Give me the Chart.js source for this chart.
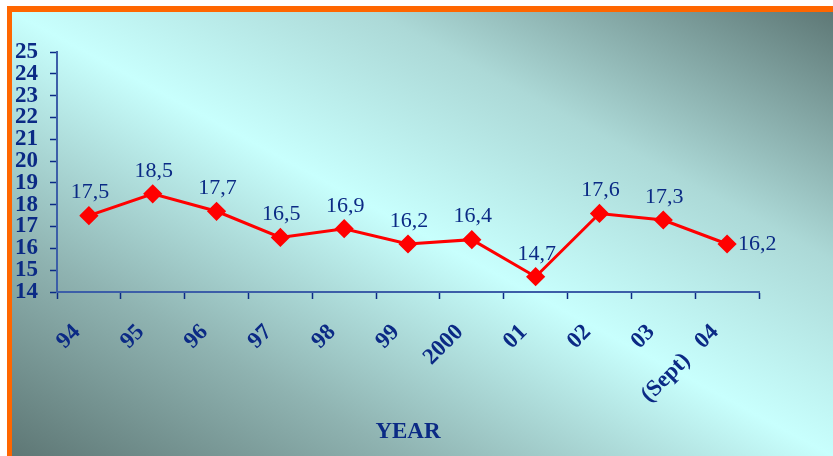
<!DOCTYPE html>
<html>
<head>
<meta charset="utf-8">
<script src="https://cdn.jsdelivr.net/npm/chart.js@4.4.1/dist/chart.umd.min.js"></script>
<style>
  html, body { margin: 0; padding: 0; background: #fff; }
  #frame {
    position: absolute; left: 7px; top: 6px; width: 826px; height: 450px;
    box-sizing: border-box;
    border-top: 6px solid #ff6600; border-left: 5px solid #ff6600;
    background: linear-gradient(to top right, #5e7775 0%, #8fb3b1 24%, #c8fffd 50%, #acd9d7 72%, #5e7876 100%);
  }
  #wrap { position: absolute; left: 0; top: 0; width: 833px; height: 456px; }
</style>
</head>
<body>
<div id="frame"></div>
<div id="wrap"><canvas id="chart" width="833" height="456"></canvas></div>
<script>
const years = ['94', '95', '96', '97', '98', '99', '2000', '01', '02', '03', '(Sept)   04'];
const values = [17.5, 18.5, 17.7, 16.5, 16.9, 16.2, 16.4, 14.7, 17.6, 17.3, 16.2];
const yMin = 14;
const yMax = 25;

const navy = '#0b2a85';

// value labels over each point, last one sits to the right
const valueLabels = {
  id: 'valueLabels',
  afterDatasetsDraw(chart) {
    const ctx = chart.ctx;
    const meta = chart.getDatasetMeta(0);
    ctx.save();
    ctx.font = '22px "Liberation Serif", "Times New Roman", serif';
    ctx.fillStyle = navy;
    ctx.textBaseline = 'middle';
    meta.data.forEach((pt, i) => {
      const txt = values[i].toFixed(1).replace('.', ',');
      if (i === meta.data.length - 1) {
        ctx.textAlign = 'left';
        ctx.fillText(txt, pt.x + 11, pt.y);
      } else {
        ctx.textAlign = 'center';
        ctx.fillText(txt, pt.x + 1, pt.y - 23);
      }
    });
    ctx.restore();
  }
};

new Chart(document.getElementById('chart'), {
  type: 'line',
  data: {
    labels: years,
    datasets: [{
      data: values,
      borderColor: '#ff0000',
      backgroundColor: '#ff0000',
      borderWidth: 3,
      pointStyle: 'rectRot',
      pointRadius: 7.5,
      pointHoverRadius: 7.5,
      tension: 0
    }]
  },
  options: {
    responsive: false,
    animation: false,
    layout: { padding: { top: 52, right: 74, left: 0, bottom: 10 } },
    plugins: { legend: { display: false }, tooltip: { enabled: false } },
    scales: {
      x: {
        offset: true,
        grid: { drawOnChartArea: false, drawTicks: true, tickLength: 7, tickWidth: 1.5, color: navy, offset: true },
        border: { color: '#3c5ea8', width: 2 },
        ticks: {
          color: navy,
          font: { family: '"Liberation Serif", serif', size: 23, weight: 'bold' },
          minRotation: 45, maxRotation: 45,
          autoSkip: false,
          padding: 20,
          labelOffset: -12
        },
        title: {
          display: true, text: 'YEAR', color: navy,
          font: { family: '"Liberation Serif", serif', size: 23, weight: 'bold' },
          padding: { top: 0, bottom: 0 }
        },
        afterFit(scale) { scale.height = 154; }
      },
      y: {
        min: yMin, max: yMax,
        grid: { drawOnChartArea: false, tickLength: 7, tickWidth: 1.5, color: navy },
        border: { color: '#3c5ea8', width: 2 },
        ticks: {
          stepSize: 1, autoSkip: false, color: navy, padding: 12,
          font: { family: '"Liberation Serif", serif', size: 23, weight: 'bold', lineHeight: 0.9 }
        },
        afterFit(scale) { scale.width = 57; }
      }
    }
  },
  plugins: [valueLabels]
});
</script>
</body>
</html>
